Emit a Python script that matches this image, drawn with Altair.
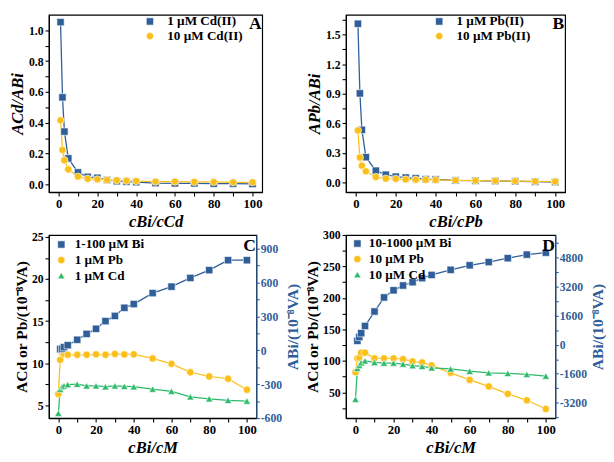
import altair as alt
import pandas as pd

FONT = "Liberation Serif"
BLUE = "#2F5E98"
YELLOW = "#FBBF1A"
GREEN = "#2DBB6B"

# ---------------- data: panels A and B ----------------
x_ratio = [1, 2, 3, 5, 10, 15, 20, 25, 30, 35, 40, 50, 60, 70, 80, 90, 100]
cd_1uM = [1.053, 0.565, 0.343, 0.169, 0.078, 0.049, 0.043, 0.029, 0.021, 0.018, 0.015,
          0.009, 0.007, 0.007, 0.005, 0.005, 0.003]
cd_10uM = [0.416, 0.224, 0.157, 0.098, 0.051, 0.037, 0.033, 0.029, 0.027, 0.024, 0.022,
           0.018, 0.018, 0.016, 0.016, 0.014, 0.014]
pb_1uM = [1.61, 0.903, 0.533, 0.255, 0.118, 0.077, 0.057, 0.048, 0.041, 0.032, 0.029,
          0.019, 0.016, 0.013, 0.010, 0.006, 0.003]
pb_10uM = [0.527, 0.252, 0.169, 0.112, 0.054, 0.038, 0.035, 0.029, 0.027, 0.026, 0.024,
           0.020, 0.017, 0.015, 0.012, 0.010, 0.008]

# ---------------- data: panels C and D ----------------
x_m = [0, 1, 2, 3, 5, 10, 15, 20, 25, 30, 35, 40, 50, 60, 70, 80, 90, 100]
x_bi = [1, 2, 3, 5, 10, 15, 20, 25, 30, 35, 40, 50, 60, 70, 80, 90, 100]

c_bi = [10, 15, 28, 45, 93, 145, 190, 258, 304, 376, 409, 506, 563, 640, 709, 797, 797]
c_pb = [6.35, 10.4, 11.2, 11.1, 11.0, 11.0, 11.0, 11.05, 11.0, 11.1, 11.04, 11.05,
        10.57, 9.92, 8.92, 8.42, 8.15, 6.84]
c_cd = [4.05, 6.9, 7.2, 7.3, 7.45, 7.5, 7.3, 7.3, 7.2, 7.3, 7.24, 7.2,
        6.92, 6.66, 6.0, 5.77, 5.58, 5.5]

d_bi = [212, 425, 637, 1030, 1827, 2602, 2995, 3260, 3440, 3664, 3840, 4123, 4373,
        4550, 4763, 4960, 5067]
d_pb = [82, 104, 105, 113, 113, 104, 104, 104, 102.6, 99, 97.4, 92.8, 81, 69.7, 59.4,
        47.6, 37.3, 23.5]
d_cd = [39, 88, 93, 97, 100, 97.4, 96.4, 96.4, 94.9, 92.3, 91.2, 88.7, 87.2, 83.5, 81,
        80, 78.4, 75.8]

X_TICKS = list(range(0, 101, 10))
XDOM = [-5, 105]


def xaxis(title):
    return alt.Axis(title=title, values=X_TICKS,
                    labelExpr="datum.value % 20 == 0 ? '' + datum.value : ''",
                    titleFontStyle="italic", labelFontSize=13, titleFontSize=17)


def legend(lx, ly, off, rowpad):
    return alt.Legend(orient="none", legendX=lx, legendY=ly, title=None,
                      labelFont=FONT, labelFontSize=13.5, labelFontWeight="bold",
                      labelColor="black", symbolSize=56, labelOffset=off,
                      rowPadding=rowpad, symbolStrokeWidth=0.6, symbolStrokeColor="white")


def letter_layer(letter, xpos, ypos):
    return alt.Chart(pd.DataFrame({"t": [letter]})).mark_text(
        font=FONT, fontSize=18, fontWeight="bold", align="center", baseline="middle",
        color="black").encode(text="t:N", x=alt.value(xpos), y=alt.value(ypos))


def series_layers(series, X, Y, cs, ss, leg):
    """series: list of (name, xs, ys, colour)"""
    lines = []
    frames = []
    for name, xs, ys, col in series:
        df = pd.DataFrame({"x": xs, "y": ys, "s": [name] * len(xs)})
        frames.append(df)
        lines.append(alt.Chart(df).mark_line(strokeWidth=1.3, color=col).encode(x=X, y=Y))
    allpts = pd.concat(frames, ignore_index=True)
    pts = alt.Chart(allpts).mark_point(filled=True, size=56, opacity=1, stroke="white",
                                       strokeWidth=0.6).encode(
        x=X, y=Y,
        color=alt.Color("s:N", scale=cs, legend=leg),
        shape=alt.Shape("s:N", scale=ss, legend=leg))
    return alt.layer(*lines, pts)


def ratio_panel(s1, s2, names, xt, yt, ydom, yvals, yexpr, letter, leg, W, H):
    X = alt.X("x:Q", scale=alt.Scale(domain=XDOM, nice=False, zero=False), axis=xaxis(xt))
    Y = alt.Y("y:Q", scale=alt.Scale(domain=ydom, nice=False, zero=False),
              axis=alt.Axis(title=yt, values=yvals, labelExpr=yexpr, labelFontSize=12,
                            titleFontSize=17, titleFontStyle="italic", titlePadding=2))
    cs = alt.Scale(domain=names, range=[BLUE, YELLOW])
    ss = alt.Scale(domain=names, range=["square", "circle"])
    series = [(names[0], x_ratio, s1, BLUE), (names[1], x_ratio, s2, YELLOW)]
    return alt.layer(series_layers(series, X, Y, cs, ss, leg),
                     letter_layer(letter, W - 7, 9)).properties(width=W, height=H)


def dual_panel(pb, cd, bi, names, ldom, lvals, lexpr, ltitle, rdom, rvals, rexpr, rtitle,
               letter, leg, W, H):
    cs = alt.Scale(domain=names, range=[BLUE, YELLOW, GREEN])
    ss = alt.Scale(domain=names, range=["square", "circle", "triangle-up"])
    X = alt.X("x:Q", scale=alt.Scale(domain=XDOM, nice=False, zero=False),
              axis=xaxis("cBi/cM"))
    YL = alt.Y("y:Q", scale=alt.Scale(domain=ldom, nice=False, zero=False),
               axis=alt.Axis(title=ltitle, values=lvals, labelExpr=lexpr, labelFontSize=12,
                             titleFontSize=16, orient="left", titlePadding=2))
    YR = alt.Y("y:Q", scale=alt.Scale(domain=rdom, nice=False, zero=False),
               axis=alt.Axis(title=rtitle, values=rvals, labelExpr=rexpr, orient="right",
                             labelFontSize=12, titleFontSize=16, titleAngle=270,
                             titleBaseline="top", domainColor=BLUE, tickColor=BLUE,
                             labelColor=BLUE, titleColor=BLUE, domainWidth=1.2,
                             tickSize=3, labelPadding=1))
    left = series_layers([(names[1], x_m, pb, YELLOW), (names[2], x_m, cd, GREEN)],
                         X, YL, cs, ss, leg)
    right = series_layers([(names[0], x_bi, bi, BLUE)], X, YR, cs, ss, leg)
    return alt.layer(left, right, letter_layer(letter, W - 7, 11)).resolve_scale(
        y="independent").properties(width=W, height=H)


A = ratio_panel(cd_1uM, cd_10uM, ["1 µM Cd(II)", "10 µM Cd(II)"], "cBi/cCd", "ACd/ABi",
                [-0.05, 1.1], [round(0.1 * i, 1) for i in range(11)],
                "round(datum.value * 10) % 2 == 0 ? format(datum.value, '.1f') : ''",
                "A", legend(97, 0, 11, 0), 219, 182)
B = ratio_panel(pb_1uM, pb_10uM, ["1 µM Pb(II)", "10 µM Pb(II)"], "cBi/cPb", "APb/ABi",
                [-0.1, 1.7], [round(0.15 * i, 2) for i in range(12)],
                "round(datum.value / 0.15) % 2 == 0 ? format(datum.value, '.1f') : ''",
                "B", legend(89, 0, 11, 0), 225, 182)
C = dual_panel(c_pb, c_cd, c_bi, ["1-100 µM Bi", "1 µM Pb", "1 µM Cd"],
               [3.47, 25.24], [5 + 2.5 * i for i in range(9)],
               "datum.value % 5 == 0 ? '' + datum.value : ''",
               "ACd or Pb/(10⁻⁸VA)",
               [-600, 1020], list(range(-600, 1001, 150)),
               "datum.value % 300 == 0 ? '' + datum.value : ''",
               "ABi/(10⁻⁸VA)", "C", legend(6, 3, 7, 1), 213, 188)
D = dual_panel(d_pb, d_cd, d_bi, ["10-1000 µM Bi", "10 µM Pb", "10 µM Cd"],
               [9, 300], list(range(25, 301, 25)),
               "datum.value % 50 == 0 ? '' + datum.value : ''",
               "ACd or Pb/(10⁻⁸VA)",
               [-4040, 6040], list(range(-4000, 6001, 800)),
               "datum.value % 1600 == 0 ? '' + datum.value : ''",
               "ABi/(10⁻⁸VA)", "D", legend(5, 2, 5, 1), 215, 188)

chart = alt.concat(A, B, C, D, columns=2, spacing={"row": 44, "column": 86},
                   bounds="flush").resolve_scale(
    color="independent", shape="independent"
).properties(
    padding=0, background="white"
).configure_view(stroke="black", strokeWidth=1.2).configure_axis(
    labelFont=FONT, labelFontWeight="bold", labelColor="black",
    titleFont=FONT, titleFontWeight="bold", titleColor="black",
    domainColor="black", tickColor="black", domainWidth=1.2, tickWidth=1.1,
    grid=False, tickSize=4, labelPadding=2, titlePadding=3, labelFlush=False
)

chart.save("out.html", embed_options={"renderer": "svg", "actions": False})
